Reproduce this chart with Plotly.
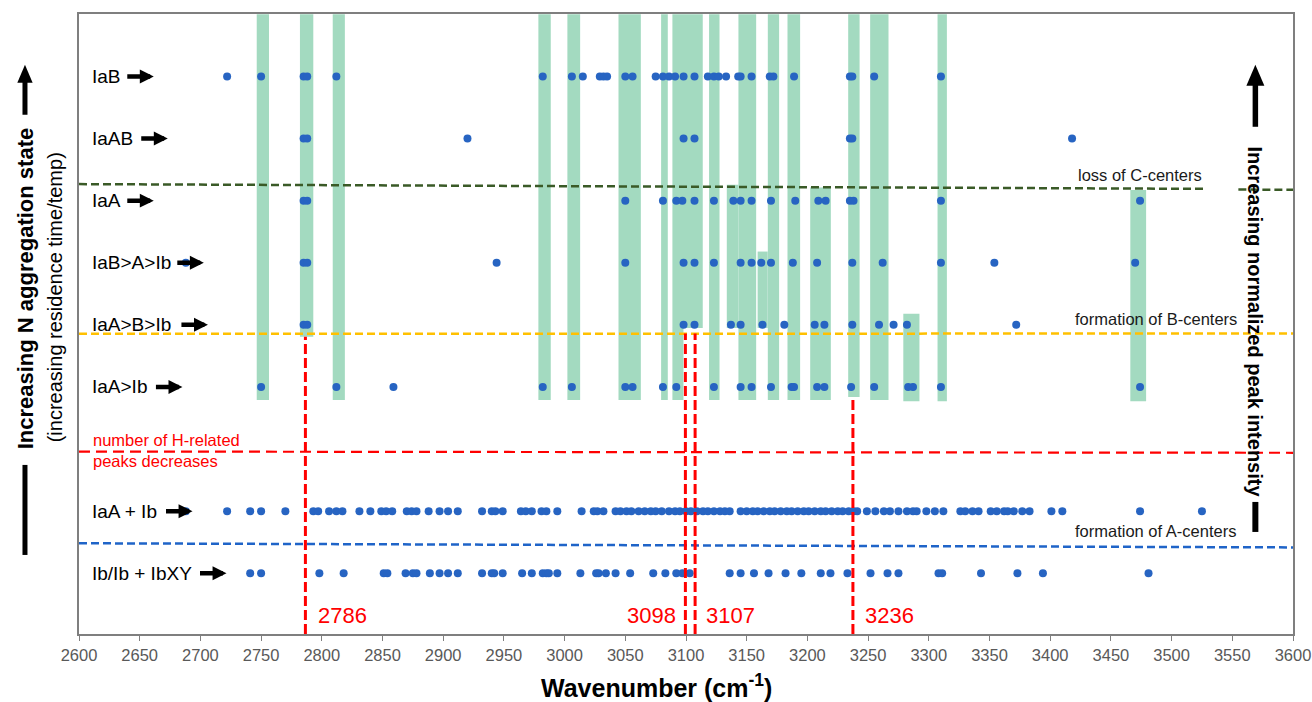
import plotly.graph_objects as go

# ---------------- data ----------------
row_labels = ["IaB", "IaAB", "IaA", "IaB>A>Ib", "IaA>B>Ib", "IaA>Ib", "IaA + Ib", "Ib/Ib + IbXY"]
row_levels = [8, 7, 6, 5, 4, 3, 1, 0]

iab = [2722, 2750, 2785, 2788, 2812, 2982, 3006, 3015, 3029, 3032, 3035, 3050, 3056, 3075,
       3081, 3086, 3091, 3098, 3107, 3118, 3123, 3127, 3133, 3143, 3145, 3154, 3169, 3172,
       3189, 3235, 3237, 3255, 3310]
iaab = [2785, 2788, 2920, 3098, 3107, 3235, 3237, 3418]
iaa = [2785, 2788, 3050, 3081, 3092, 3097, 3107, 3123, 3139, 3145, 3154, 3170, 3190, 3209,
       3215, 3235, 3238, 3310, 3474]
iab_a_ib = [2688, 2785, 2788, 2944, 3050, 3098, 3107, 3123, 3145, 3154, 3162, 3170, 3188,
            3208, 3237, 3262, 3310, 3354, 3470]
iaa_b_ib = [2785, 2788, 3098, 3107, 3137, 3145, 3163, 3181, 3206, 3214, 3237, 3259, 3271,
            3282, 3372]
iaa_ib = [2750, 2812, 2859, 2982, 3006, 3050, 3056, 3081, 3092, 3123, 3145, 3154, 3170, 3187,
          3189, 3208, 3214, 3236, 3255, 3283, 3287, 3310, 3474]
iaa_plus_ib = [2688, 2722, 2741, 2750, 2770, 2793, 2797, 2806, 2812, 2817, 2831, 2840, 2849,
               2853, 2858, 2870, 2874, 2878, 2888, 2897, 2904, 2912, 2932, 2940, 2943, 2949,
               2964, 2968, 2973, 2981, 2985, 2994, 3014, 3024, 3027, 3032, 3042, 3046, 3051,
               3055, 3061, 3066, 3071, 3075, 3080, 3086, 3091, 3095, 3100, 3104, 3109, 3114,
               3118, 3123, 3128, 3132, 3136, 3145, 3150, 3155, 3159, 3164, 3169, 3173, 3178,
               3183, 3187, 3192, 3197, 3201, 3206, 3211, 3215, 3220, 3225, 3229, 3234, 3238,
               3241, 3249, 3256, 3263, 3268, 3275, 3282, 3287, 3290, 3298, 3305, 3312, 3326,
               3330, 3336, 3341, 3351, 3356, 3362, 3365, 3370, 3377, 3383, 3401, 3410, 3474,
               3525]
ib_ibxy = [2741, 2750, 2798, 2818, 2851, 2854, 2869, 2875, 2878, 2889, 2897, 2904, 2912, 2932,
           2940, 2942, 2949, 2965, 2973, 2982, 2985, 2987, 2994, 3013, 3026, 3028, 3034, 3042,
           3054, 3073, 3083, 3092, 3097, 3103, 3136, 3145, 3156, 3168, 3182, 3195, 3211, 3219,
           3233, 3252, 3266, 3275, 3308, 3311, 3343, 3373, 3394, 3481]
row_values = [iab, iaab, iaa, iab_a_ib, iaa_b_ib, iaa_ib, iaa_plus_ib, ib_ibxy]

# green bands (wavenumber start, end, lower level, upper level)
band_x0 = [2746.4, 2782, 2809, 2978.4, 3002.3, 3044.4, 3079.5, 3088.8, 3088.8, 3119,
           3133.6, 3143.2, 3159, 3167.4, 3183.6, 3202.3, 3233.6, 3251.7, 3279, 3307.2, 3466]
band_x1 = [2756.5, 2793, 2819, 2988.6, 3012.8, 3062.8, 3085, 3113.8, 3097.9, 3127.6,
           3143.2, 3157.8, 3167.3, 3176.7, 3194, 3219.3, 3243, 3266.8, 3292.3, 3314.9, 3479]
band_lo = [2.79, 3.81, 2.79, 2.79, 2.79, 2.79, 2.79, 3.95, 2.79, 2.79,
           3.95, 2.79, 3.95, 2.79, 2.79, 2.79, 2.84, 2.79, 2.77, 2.77, 2.77]
band_hi = [9.0, 9.0, 9.0, 9.0, 9.0, 9.0, 9.0, 9.0, 3.95, 9.0,
           6.255, 9.0, 5.18, 9.0, 9.0, 6.21, 9.0, 9.0, 4.18, 9.0, 6.17]

marked_peaks = ["2786", "3098", "3107", "3236"]
marked_pos = [2786.5, 3099.5, 3107.5, 3237.5]
marked_top = [3.81, 3.86, 3.86, 2.84]

x_ticks = list(range(2600, 3601, 50))

# ---------------- figure ----------------
BLUE = "#2764C2"
GREEN_BAND = "#A3DAC0"
FONT = "Arial, Liberation Sans, Helvetica, sans-serif"

fig = go.Figure()
for vals, lvl in zip(row_values, row_levels):
    fig.add_trace(go.Scatter(x=vals, y=[lvl] * len(vals), mode="markers",
                             marker=dict(color=BLUE, size=8, line=dict(width=0)),
                             showlegend=False, hoverinfo="x"))

shapes = []
for x0, x1, lo, hi in zip(band_x0, band_x1, band_lo, band_hi):
    shapes.append(dict(type="rect", xref="x", yref="y", x0=x0, x1=x1, y0=lo, y1=hi,
                       fillcolor=GREEN_BAND, line=dict(width=0), layer="below"))

# horizontal dashed separators
shapes += [
    dict(type="line", xref="x", yref="y", x0=2600, x1=3526, y0=6.266, y1=6.19,
         line=dict(color="#3A5A27", width=2.5, dash="8px,4px")),
    dict(type="line", xref="x", yref="y", x0=3555, x1=3600, y0=6.178, y1=6.174,
         line=dict(color="#3A5A27", width=2.5, dash="8px,4px")),
    dict(type="line", xref="x", yref="y", x0=2600, x1=3600, y0=3.855, y1=3.86,
         line=dict(color="#FFC000", width=2.5, dash="8px,4px")),
    dict(type="line", xref="x", yref="y", x0=2600, x1=3600, y0=1.96, y1=1.94,
         line=dict(color="#FF0000", width=2.2, dash="11px,6px")),
    dict(type="line", xref="x", yref="y", x0=2600, x1=3600, y0=0.483, y1=0.416,
         line=dict(color="#1F64C8", width=2.5, dash="8px,4px")),
]
for xp, top in zip(marked_pos, marked_top):
    shapes.append(dict(type="line", xref="x", yref="y", x0=xp, x1=xp, y0=-0.978, y1=top,
                       line=dict(color="#FF0000", width=3, dash="10px,4px")))

# side arrows (shafts, heads, tails) in paper coordinates
LX, RX = -0.0445, 0.969
shapes += [
    dict(type="line", xref="paper", yref="paper", x0=LX, x1=LX, y0=0.1275, y1=0.2727,
         line=dict(color="black", width=5)),
    dict(type="line", xref="paper", yref="paper", x0=LX, x1=LX, y0=0.8375, y1=0.892,
         line=dict(color="black", width=5)),
    dict(type="path", xref="paper", yref="paper",
         path=f"M {LX - 0.0063},0.8891 L {LX + 0.0063},0.8891 L {LX},0.918 Z",
         fillcolor="black", line=dict(width=0)),
    dict(type="line", xref="paper", yref="paper", x0=RX, x1=RX, y0=0.1646, y1=0.213,
         line=dict(color="black", width=6)),
    dict(type="line", xref="paper", yref="paper", x0=RX, x1=RX, y0=0.8181, y1=0.889,
         line=dict(color="black", width=5.5)),
    dict(type="path", xref="paper", yref="paper",
         path=f"M {RX - 0.0074},0.8843 L {RX + 0.0074},0.8843 L {RX},0.918 Z",
         fillcolor="black", line=dict(width=0)),
]

annotations = []
label_x = 2609.4
arrow_tip = [2661.6, 2673.1, 2661.6, 2702.8, 2706.2, 2685.2, 2693.5, 2721.5]
for lab, lvl, tip in zip(row_labels, row_levels, arrow_tip):
    annotations.append(dict(x=label_x, y=lvl, xref="x", yref="y", text=lab, showarrow=False,
                            xanchor="left", yanchor="middle",
                            font=dict(family=FONT, size=19, color="black")))
    annotations.append(dict(x=tip, y=lvl, xref="x", yref="y", text="", showarrow=True,
                            ax=-28, ay=0, arrowhead=2, arrowsize=0.62, arrowwidth=4.5,
                            arrowcolor="black", standoff=0))

# peak labels
shifts = [11, -7, 9, 10]
anchors = ["left", "right", "left", "left"]
for lab, xp, s, a in zip(marked_peaks, marked_pos, shifts, anchors):
    annotations.append(dict(x=xp, y=-0.68, xref="x", yref="y", text=lab, showarrow=False,
                            xanchor=a, yanchor="middle", xshift=s,
                            font=dict(family=FONT, size=22, color="#FF0000")))

# in-plot notes
annotations += [
    dict(x=3474, y=6.42, xref="x", yref="y", text="loss of C-centers", showarrow=False,
         xanchor="center", yanchor="middle", font=dict(family=FONT, size=16.5, color="#1a1a1a")),
    dict(x=3487, y=4.10, xref="x", yref="y", text="formation of B-centers", showarrow=False,
         xanchor="center", yanchor="middle", font=dict(family=FONT, size=16.5, color="#1a1a1a")),
    dict(x=3486.5, y=0.68, xref="x", yref="y", text="formation of A-centers", showarrow=False,
         xanchor="center", yanchor="middle", font=dict(family=FONT, size=16.5, color="#1a1a1a")),
    dict(x=2610.2, y=1.97, xref="x", yref="y", text="number of H-related<br>peaks decreases",
         showarrow=False, xanchor="left", yanchor="middle", align="left",
         font=dict(family=FONT, size=16.5, color="#FF0000")),
]

# axis titles (as text)
annotations += [
    dict(x=0.4753, y=-0.0839, xref="paper", yref="paper",
         text="<b>Wavenumber (cm<sup>-1</sup>)</b>", showarrow=False,
         xanchor="center", yanchor="middle", font=dict(family=FONT, size=25, color="black")),
    dict(x=LX, y=0.5575, xref="paper", yref="paper",
         text="<b>Increasing N aggregation state</b>", showarrow=False, textangle=-90,
         xanchor="center", yanchor="middle", font=dict(family=FONT, size=22, color="black")),
    dict(x=-0.0198, y=0.543, xref="paper", yref="paper",
         text="(increasing residence time/temp)", showarrow=False, textangle=-90,
         xanchor="center", yanchor="middle", font=dict(family=FONT, size=20, color="black")),
    dict(x=RX, y=0.5035, xref="paper", yref="paper",
         text="<b>Increasing normalized peak intensity</b>", showarrow=False, textangle=90,
         xanchor="center", yanchor="middle", font=dict(family=FONT, size=20, color="black")),
]

fig.update_layout(
    width=1312, height=702,
    margin=dict(l=79, r=19, t=14, b=68, autoexpand=False),
    paper_bgcolor="white", plot_bgcolor="white",
    shapes=shapes, annotations=annotations,
    showlegend=False,
    xaxis=dict(range=[2600, 3600], tickmode="array", tickvals=x_ticks,
               ticktext=[str(t) for t in x_ticks], automargin=False,
               showgrid=False, zeroline=False, showline=True, linecolor="#7F7F7F",
               linewidth=1.5, mirror=True, ticks="outside", ticklen=5, tickcolor="#7F7F7F",
               tickfont=dict(family=FONT, size=16.5, color="#595959")),
    yaxis=dict(range=[-0.978, 9.005], showgrid=False, zeroline=False, showline=True,
               linecolor="#7F7F7F", linewidth=1.5, mirror=True, showticklabels=False,
               ticks="", automargin=False),
)

fig.write_html(
    "out.html",
    config={"displayModeBar": False},
    post_script="document.body.style.margin='0';document.body.style.overflow='hidden';",
)
